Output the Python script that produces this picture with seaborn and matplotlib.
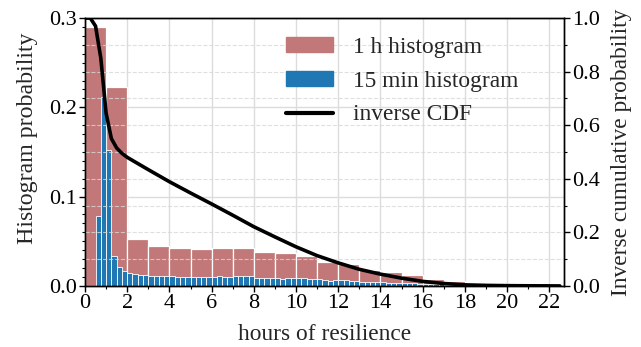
import numpy as np
import pandas as pd
import matplotlib
matplotlib.use("Agg")
import matplotlib.pyplot as plt
from matplotlib.ticker import MultipleLocator
from matplotlib.patches import Patch
from matplotlib.lines import Line2D
import seaborn as sns

# ---------------- data ----------------
# 1 h histogram: probability per hour bin (bin start hours 0..22)
hour_starts = list(range(0, 23))
prob_1h = [0.290, 0.223, 0.053, 0.045, 0.042, 0.041, 0.042, 0.043, 0.038, 0.037,
           0.033, 0.027, 0.024, 0.018, 0.016, 0.012, 0.008, 0.005, 0.003, 0.0015,
           0.001, 0.0008, 0.0008]

# 15 min histogram: probability per quarter-hour bin (starts 0, 0.25, ... 22.75)
quarter_starts = [q / 4 for q in range(0, 92)]
prob_15m = [
    0.0, 0.0, 0.078, 0.212,
    0.152, 0.034, 0.021, 0.017,
    0.0146, 0.0131, 0.0125, 0.0123,
    0.0110, 0.0108, 0.0108, 0.0110,
    0.0108, 0.0100, 0.0096, 0.0098,
    0.0098, 0.0104, 0.0104, 0.0104,
    0.0104, 0.0106, 0.0105, 0.0104,
    0.0106, 0.0107, 0.0106, 0.0106,
    0.0094, 0.0093, 0.0093, 0.0094,
    0.0093, 0.0080, 0.0093, 0.0092,
    0.0086, 0.0085, 0.0078, 0.0079,
    0.0072, 0.0070, 0.0060, 0.0070,
    0.0062, 0.0066, 0.0054, 0.0050,
    0.0047, 0.0044, 0.0043, 0.0040,
    0.0040, 0.0038, 0.0036, 0.0034,
    0.0033, 0.0031, 0.0029, 0.0027,
    0.0024, 0.0021, 0.0019, 0.0017,
    0.0015, 0.0013, 0.0011, 0.0010,
    0.0009, 0.0008, 0.0007, 0.0006,
    0.0005, 0.0004, 0.0004, 0.0003,
    0.0003, 0.0003, 0.0002, 0.0002,
    0.0002, 0.0002, 0.0002, 0.0002,
    0.0002, 0.0002, 0.0001, 0.0001,
]

# inverse cumulative probability
cdf_hours = [0, 0.25, 0.5, 0.75, 1.0, 1.25, 1.5, 1.75, 2, 3, 4, 5, 6, 7, 8, 9, 10,
             11, 12, 13, 14, 15, 16, 17, 18, 19, 20, 21, 22, 22.5]
inv_cdf = [1.0, 1.0, 0.97, 0.85, 0.645, 0.55, 0.515, 0.495, 0.48, 0.434, 0.389,
           0.347, 0.306, 0.264, 0.221, 0.183, 0.146, 0.113, 0.086, 0.062, 0.044,
           0.029, 0.017, 0.009, 0.004, 0.002, 0.001, 0.0005, 0.0002, 0.0]

# ---------------- style ----------------
sns.set_theme(style="ticks")
plt.rcParams["font.family"] = ["Liberation Serif", "DejaVu Serif"]
FS_TICK = 16
FS_LAB = 16.8

fig = plt.figure(figsize=(6.41, 3.47), dpi=100)
ax = fig.add_axes([0.1326, 0.176, 0.7474, 0.772])
ax2 = ax.twinx()

red = "#c27878"
blue = "#1f77b4"

df1 = pd.DataFrame({"h": [h + 0.5 for h in hour_starts], "p": prob_1h})
df15 = pd.DataFrame({"h": [q + 0.125 for q in quarter_starts], "p": prob_15m})

sns.histplot(data=df1, x="h", weights="p", binwidth=1.0, binrange=(0, 23),
             color=red, alpha=1.0, edgecolor="white", linewidth=0.9, ax=ax)
sns.histplot(data=df15, x="h", weights="p", binwidth=0.25, binrange=(0, 23),
             color=blue, alpha=1.0, edgecolor="white", linewidth=0.6, ax=ax)

sns.lineplot(x=cdf_hours, y=inv_cdf, color="black", linewidth=2.6, ax=ax2)

# axes limits & ticks
ax.set_xlim(0, 22.7)
ax.set_ylim(0, 0.3)
ax2.set_ylim(0, 1.0)
ax.xaxis.set_major_locator(MultipleLocator(2))
ax.xaxis.set_minor_locator(MultipleLocator(1))
ax.yaxis.set_minor_locator(MultipleLocator(0.01))
ax2.yaxis.set_minor_locator(MultipleLocator(0.1))

for a in (ax, ax2):
    a.tick_params(which="major", direction="out", length=4, width=1,
                  labelsize=FS_TICK, colors="black", pad=2)
    a.tick_params(which="minor", direction="out", length=2.5, width=0.8,
                  colors="black")
    for s in a.spines.values():
        s.set_visible(True)
        s.set_color("black")
        s.set_linewidth(1.0)

ax.set_yticks([0.0, 0.1, 0.2, 0.3])
ax.set_yticklabels(["0.0", "0.1", "0.2", "0.3"])
ax2.set_yticks([0.0, 0.2, 0.4, 0.6, 0.8, 1.0])
ax2.set_yticklabels(["0.0", "0.2", "0.4", "0.6", "0.8", "1.0"])

# grids
ax.set_axisbelow(True)
ax.grid(which="major", axis="both", color="#dcdcdc", linestyle="-", linewidth=1.0)
ax2.grid(which="both", axis="y", color="#d8d8d8", linestyle="--", linewidth=0.8,
         alpha=0.8)

ax.set_xlabel("hours of resilience", fontsize=FS_LAB, labelpad=8)
ax.set_ylabel("Histogram probability", fontsize=17.2)
ax.yaxis.set_label_coords(-0.098, 0.55)
ax2.set_ylabel("Inverse cumulative probability", fontsize=FS_LAB, labelpad=8)

handles = [Patch(facecolor=red, edgecolor=red),
           Patch(facecolor=blue, edgecolor=blue),
           Line2D([0], [0], color="black", linewidth=3)]
labels = ["1 h histogram", "15 min histogram", "inverse CDF"]
ax2.legend(handles, labels, loc="upper left", bbox_to_anchor=(0.40, 0.965),
           frameon=False, fontsize=FS_LAB, handlelength=2.0, handleheight=0.6,
           labelspacing=0.55, handletextpad=0.86, borderaxespad=0.0)

fig.savefig("out.png", dpi=100)
